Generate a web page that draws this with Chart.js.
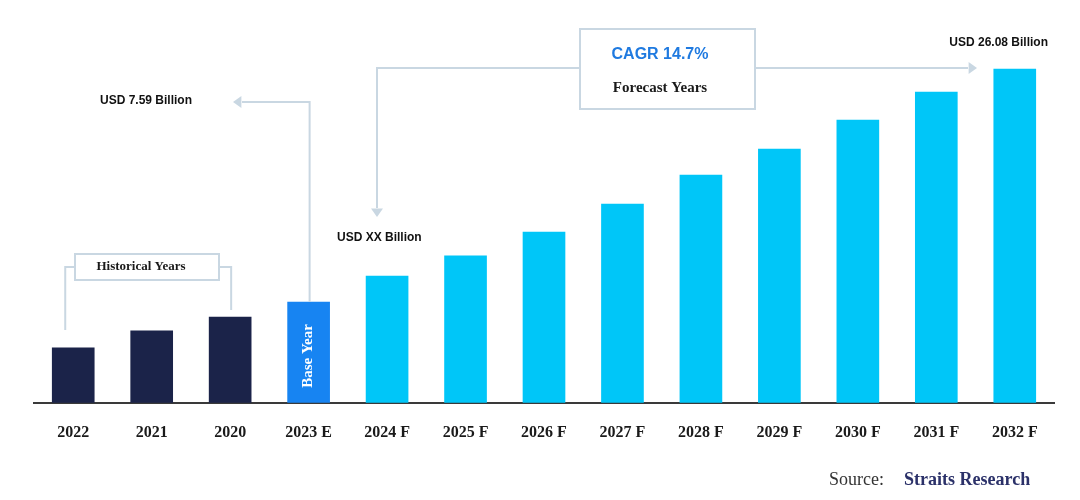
<!DOCTYPE html>
<html lang="en">
<head>
  <meta charset="UTF-8" />
  <title>Market Size Forecast</title>
  <script src="https://cdn.jsdelivr.net/npm/chart.js"></script>
  <style>
    html, body { margin: 0; padding: 0; background: #fff; }
    .wrap { width: 1080px; height: 500px; }
  </style>
</head>
<body>
  <div class="wrap"><canvas id="market-chart" width="1080" height="500"></canvas></div>

  <script>
    // Data (USD billion)
    const years = ['2022', '2021', '2020', '2023 E', '2024 F', '2025 F', '2026 F',
                   '2027 F', '2028 F', '2029 F', '2030 F', '2031 F', '2032 F'];
    const marketSize = [4.29, 5.62, 6.71, 7.88, 9.91, 11.48, 13.35, 15.53, 17.80, 19.83, 22.09, 24.28, 26.08];
    const baseYearIndex = 3;
    const baseLabel = 'USD 7.59 Billion';
    const firstForecastLabel = 'USD XX Billion';
    const lastLabel = 'USD 26.08 Billion';
    const cagrText = 'CAGR 14.7%';

    const NAVY = '#1b2349';
    const BLUE = '#1784f2';
    const CYAN = '#00c6f8';
    const LINE = '#c9d7e2';

    function arrow(ctx, x, y, dir) {
      const s = 6;
      ctx.beginPath();
      if (dir === 'left') { ctx.moveTo(x, y); ctx.lineTo(x + s * 1.4, y - s); ctx.lineTo(x + s * 1.4, y + s); }
      if (dir === 'right') { ctx.moveTo(x, y); ctx.lineTo(x - s * 1.4, y - s); ctx.lineTo(x - s * 1.4, y + s); }
      if (dir === 'down') { ctx.moveTo(x, y); ctx.lineTo(x - s, y - s * 1.4); ctx.lineTo(x + s, y - s * 1.4); }
      ctx.closePath();
      ctx.fill();
    }

    const annotate = {
      id: 'annotate',
      afterDatasetsDraw(chart) {
        const { ctx, scales: { x, y } } = chart;
        const px = i => x.getPixelForValue(i);
        const py = v => y.getPixelForValue(v);
        ctx.save();
        ctx.strokeStyle = LINE;
        ctx.fillStyle = LINE;
        ctx.lineWidth = 2;

        // Historical years bracket
        const hx0 = px(0) - 8, hx1 = px(2) + 1;
        ctx.beginPath();
        ctx.moveTo(hx0, py(marketSize[0]) - 18); ctx.lineTo(hx0, 267); ctx.lineTo(75, 267);
        ctx.moveTo(219, 267); ctx.lineTo(hx1, 267); ctx.lineTo(hx1, py(marketSize[2]) - 7);
        ctx.stroke();
        ctx.strokeRect(75, 254, 144, 26);

        // Base year arrow
        const bx = px(baseYearIndex) + 1;
        ctx.beginPath();
        ctx.moveTo(bx, py(marketSize[baseYearIndex]));
        ctx.lineTo(bx, 102);
        ctx.lineTo(242, 102);
        ctx.stroke();
        arrow(ctx, 233, 102, 'left');

        // CAGR box and forecast arrows
        ctx.strokeRect(580, 29, 175, 80);
        ctx.beginPath();
        ctx.moveTo(580, 68); ctx.lineTo(377, 68); ctx.lineTo(377, 208);
        ctx.moveTo(755, 68); ctx.lineTo(968, 68);
        ctx.stroke();
        arrow(ctx, 377, 217, 'down');
        arrow(ctx, 977, 68, 'right');

        // Texts
        ctx.textBaseline = 'middle';
        ctx.fillStyle = '#1a1a1a';
        ctx.textAlign = 'center';
        ctx.font = 'bold 13px "Liberation Serif"';
        ctx.fillText('Historical Years', 141, 267);
        ctx.font = 'bold 15px "Liberation Serif"';
        ctx.fillText('Forecast Years', 660, 88);
        ctx.fillStyle = '#1f7ae0';
        ctx.font = 'bold 16px "Liberation Sans"';
        ctx.fillText(cagrText, 660, 55);

        ctx.fillStyle = '#111';
        ctx.font = 'bold 12px "Liberation Sans"';
        ctx.textAlign = 'left';
        ctx.fillText(baseLabel, 100, 101);
        ctx.fillText(firstForecastLabel, 337, 238);
        ctx.textAlign = 'right';
        ctx.fillText(lastLabel, 1048, 43);

        // Base Year inside bar
        ctx.save();
        ctx.translate(px(baseYearIndex), 356);
        ctx.rotate(-Math.PI / 2);
        ctx.textAlign = 'center';
        ctx.fillStyle = '#fff';
        ctx.font = 'bold 15px "Liberation Serif"';
        ctx.fillText('Base Year', 0, 0);
        ctx.restore();

        // Source
        ctx.textAlign = 'left';
        ctx.fillStyle = '#333';
        ctx.font = '18px "Liberation Serif"';
        ctx.fillText('Source:', 829, 480);
        ctx.fillStyle = '#2b3169';
        ctx.font = 'bold 18px "Liberation Serif"';
        ctx.fillText('Straits Research', 904, 480);

        ctx.restore();
      }
    };

    new Chart(document.getElementById('market-chart'), {
      type: 'bar',
      data: {
        labels: years,
        datasets: [{
          data: marketSize,
          backgroundColor: ctx => ctx.dataIndex < baseYearIndex ? NAVY : (ctx.dataIndex === baseYearIndex ? BLUE : CYAN),
          barThickness: 42
        }]
      },
      options: {
        responsive: false,
        animation: false,
        devicePixelRatio: 1,
        layout: { padding: { left: 34, right: 26, top: 19, bottom: 38 } },
        plugins: { legend: { display: false }, tooltip: { enabled: false } },
        scales: {
          y: { display: false, min: 0, max: 30 },
          x: {
            grid: { display: false, drawTicks: false },
            border: { display: true, color: '#3a3a3a', width: 2 },
            ticks: {
              padding: 20,
              color: '#1a1a1a',
              font: { family: 'Liberation Serif', weight: 'bold', size: 16 }
            }
          }
        }
      },
      plugins: [annotate]
    });
  </script>
</body>
</html>
